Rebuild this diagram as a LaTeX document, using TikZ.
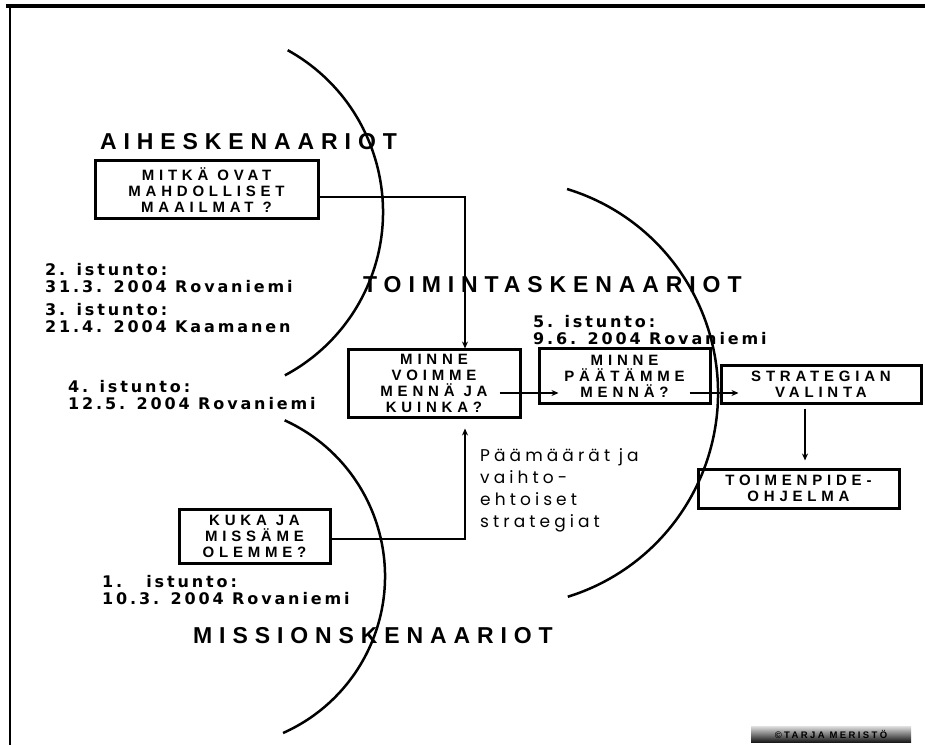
\documentclass[tikz,border=0pt]{standalone}
\usepackage{fontspec}
\setmainfont{Liberation Sans}
\newfontfamily\headfont[LetterSpace=30]{Liberation Sans}
\newfontfamily\boxfont[LetterSpace=32]{Liberation Sans}
\newfontfamily\datefont[LetterSpace=18]{DejaVu Sans}
\newfontfamily\goalfont[LetterSpace=24]{Poppins}
\newfontfamily\signfont[LetterSpace=25]{Liberation Sans}
\usetikzlibrary{arrows.meta}

\tikzset{
  question/.style={draw, line width=3pt, inner sep=0pt, align=center, font=\boxfont\bfseries\fontsize{15}{16}\selectfont},
  heading/.style={anchor=west, inner sep=0pt, font=\headfont\bfseries\fontsize{23}{27}\selectfont},
  session/.style={anchor=north west, inner sep=0pt, align=left, font=\datefont\bfseries\fontsize{16}{17}\selectfont},
  goals/.style={anchor=north west, inner sep=0pt, align=left, font=\goalfont\fontsize{17}{22}\selectfont},
  sign/.style={minimum width=160pt, minimum height=16pt, inner sep=0pt, top color=black!12, bottom color=black!90, font=\signfont\bfseries\fontsize{9.5}{11}\selectfont},
  link/.style={line width=2pt},
  arrowlink/.style={link, -{Stealth[length=7pt, width=6pt]}},
  scenario/.style={line width=2.5pt},
}

\begin{document}
\begin{tikzpicture}[x=1pt, y=1pt]
\useasboundingbox (0,0) rectangle (925,745);
\draw[line width=4pt] (6,739) -- (925,739);
\draw[line width=1.2pt] (10,741) -- (10,0);
\draw[scenario] (198,533) ++(61:185) arc[start angle=61, end angle=-62, radius=185];
\draw[scenario] (213.6,168.7) ++(65.5:171.4) arc[start angle=65.5, end angle=-66.1, radius=171.4];
\draw[scenario] (504.7,352) ++(73:213.3) arc[start angle=73, end angle=-72.8, radius=213.3];
\node[heading] (aihe) at (100,603) {AIHESKENAARIOT};
\node[heading] (toiminta) at (363,460) {TOIMINTASKENAARIOT};
\node[heading] (missio) at (193,109) {MISSIONSKENAARIOT};
\node[question, minimum width=223pt, minimum height=58pt] (maailmat) at (206.5,555) {MITKÄ OVAT\\MAHDOLLISET\\MAAILMAT ?};
\node[question, minimum width=172pt, minimum height=67pt] (minne) at (434,361.5) {MINNE\\VOIMME\\MENNÄ JA\\KUINKA?};
\node[question, minimum width=171pt, minimum height=54pt] (paatamme) at (624.5,369) {MINNE\\PÄÄTÄMME\\MENNÄ?};
\node[question, minimum width=200pt, minimum height=38pt] (strategia) at (821,361) {STRATEGIAN\\VALINTA};
\node[question, minimum width=201pt, minimum height=39pt] (ohjelma) at (798.5,256.5) {TOIMENPIDE-\\OHJELMA};
\node[question, minimum width=151pt, minimum height=54pt] (olemme) at (254.5,209) {KUKA JA\\MISSÄME\\OLEMME?};
\node[session] (istunto2) at (45,482) {2. istunto:\\31.3. 2004 Rovaniemi};
\node[session] (istunto3) at (45,442) {3. istunto:\\21.4. 2004 Kaamanen};
\node[session] (istunto4) at (68,365) {4. istunto:\\12.5. 2004 Rovaniemi};
\node[session] (istunto5) at (533,430) {5. istunto:\\9.6. 2004 Rovaniemi};
\node[session] (istunto1) at (102,170) {1.\hspace{24pt}istunto:\\10.3. 2004 Rovaniemi};
\node[goals] (paamaarat) at (480,296.5) {Päämäärät ja\\vaihto-\\ehtoiset\\strategiat};
\node[sign] (tekija) at (831,11) {©TARJA MERISTÖ};
\draw[arrowlink] ([yshift=-7pt]maailmat.east) -| ([xshift=31pt]minne.north);
\draw[arrowlink, shorten >=10pt] ([yshift=-3pt]olemme.east) -| ([xshift=31pt]minne.south);
\coordinate (bc) at ([xshift=-22pt, yshift=-9.5pt]minne.east);
\draw[arrowlink] (bc) -- ([xshift=21pt]paatamme.west |- bc);
\coordinate (cd) at ([xshift=-22pt, yshift=-17pt]paatamme.east);
\draw[arrowlink] (cd) -- ([xshift=19pt]strategia.west |- cd);
\draw[arrowlink, shorten <=4pt, shorten >=7pt] ([xshift=-16pt]strategia.south) -- ([xshift=-16pt]strategia.south |- ohjelma.north);
\end{tikzpicture}
\end{document}
